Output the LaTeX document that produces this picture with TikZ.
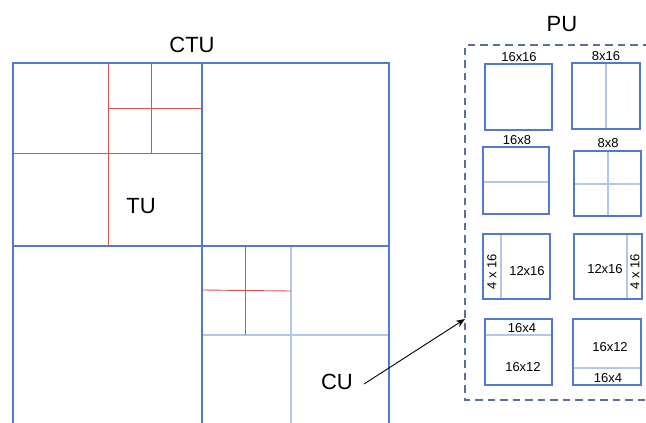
\documentclass[tikz,border=0pt]{standalone}
\usepackage{fontspec}
\setmainfont{Liberation Sans}
\usetikzlibrary{arrows.meta}
\definecolor{ctublue}{RGB}{82,122,204}
\definecolor{lblue}{RGB}{178,198,236}
\definecolor{tured}{RGB}{222,78,78}
\definecolor{dashc}{RGB}{92,112,150}
\tikzset{
  frame/.style={draw=ctublue, line width=1.8pt},
  mainline/.style={draw=ctublue, line width=1.6pt},
  cuth/.style={draw=lblue, line width=1.4pt},
  tuline/.style={draw=tured, line width=0.9pt},
  pubox/.style={draw=ctublue, line width=2.2pt},
  pudiv/.style={draw=lblue, line width=1.2pt},
  biglabel/.style={font=\fontsize{22}{24}\selectfont, inner sep=0pt},
  smalllabel/.style={font=\fontsize{13}{15}\selectfont, inner sep=0pt},
}
\begin{document}
\begin{tikzpicture}[x=1pt,y=-1pt]
\useasboundingbox (0,0) rectangle (646,423);
\clip (0,0) rectangle (646,423);
% CTU
\node[biglabel] (ctu) at (192,45) {CTU};
% TU red lines (top-left quadrant)
\draw[tuline] (108.3,63) -- (108.3,245.7);
\draw[tuline] (13,153.3) -- (201.7,153.3);
\draw[tuline] (151.7,63) -- (151.7,154);
\draw[tuline] (108.3,108.3) -- (201.7,108.3);
% bottom-right quadrant
\draw[cuth] (291,245.7) -- (291,430);
\draw[cuth] (201.7,335) -- (389,335);
\draw[tuline] (245.3,245.7) -- (245.3,335);
\draw[tuline] (201.7,290) -- (291,291);
% CTU main frame and quadrants
\draw[mainline] (201.7,63) -- (201.7,430);
\draw[mainline] (13,245.7) -- (389,245.7);
\draw[frame] (13,430) -- (13,63.3) -- (389,63.3) -- (389,430);
\node[biglabel] (tu) at (141,206) {TU};
\node[biglabel] (cu) at (337,382) {CU};
% PU dashed box
\draw[draw=dashc, line width=1.6pt, dash pattern=on 7.5pt off 5pt] (650,45) -- (465,45) -- (465,400) -- (650,400);
\node[biglabel] (pu) at (562,24) {PU};
\coordinate (pin) at (465,319);
\draw[-{Stealth[length=9pt,width=7pt]}, line width=0.9pt] (364,384) -- (pin);
% row 1
\draw[pubox] (485,64) rectangle (552,130);
\node[smalllabel] (l1616) at (519,57) {16x16};
\draw[pudiv] (606,63) -- (606,129);
\draw[pubox] (572,63) rectangle (640,129);
\node[smalllabel] (l816) at (606,56) {8x16};
% row 2
\draw[pudiv] (483,182) -- (549,182);
\draw[pubox] (483,147) rectangle (549,214);
\node[smalllabel] (l168) at (517,140) {16x8};
\draw[pudiv] (608,151) -- (608,216);
\draw[pudiv] (574,184) -- (641,184);
\draw[pubox] (574,151) rectangle (641,216);
\node[smalllabel] (l88) at (608,143) {8x8};
% row 3
\draw[pudiv] (501,234) -- (501,299);
\draw[pubox] (483,234) rectangle (550,299);
\node[smalllabel, rotate=90] (a416) at (492,272) {4 x 16};
\node[smalllabel] (a1216) at (527,271) {12x16};
\draw[pudiv] (627,234) -- (627,299);
\draw[pubox] (574,234) rectangle (642,299);
\node[smalllabel] (b1216) at (605,269) {12x16};
\node[smalllabel, rotate=90] (b416) at (635,272) {4 x 16};
% row 4
\draw[pudiv] (485,335) -- (552,335);
\draw[pubox] (485,319) rectangle (552,385);
\node[smalllabel] (c164) at (522,328.5) {16x4};
\node[smalllabel] (c1612) at (523,367) {16x12};
\draw[pudiv] (573,368) -- (641,368);
\draw[pubox] (573,319) rectangle (641,385);
\node[smalllabel] (d1612) at (610,347) {16x12};
\node[smalllabel] (d164) at (608,378.5) {16x4};
\end{tikzpicture}
\end{document}
